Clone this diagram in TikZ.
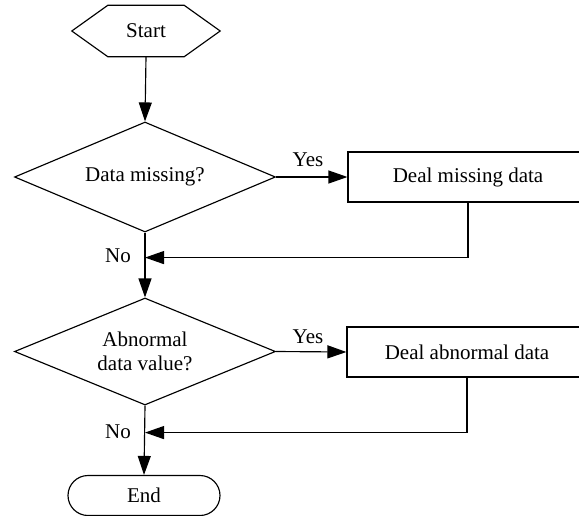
\documentclass[tikz,border=0pt]{standalone}
\usepackage{fontspec}
\setmainfont{Liberation Serif}
\usetikzlibrary{shapes.geometric,arrows.meta}
\begin{document}
\begin{tikzpicture}[x=1pt,y=-1pt,
  every node/.style={font=\fontsize{21}{24}\selectfont},
  line/.style={line width=1.15pt},
  arr/.style={line,-{Triangle[length=19pt,width=13pt]}},
  dec/.style={diamond,draw,line,inner sep=0pt,aspect=2.4,minimum width=261pt,align=center},
  proc/.style={rectangle,draw,line,minimum width=240pt,minimum height=50pt},
  lab/.style={inner sep=0pt}]
\clip (0,0) rectangle (579,515);
% start
\node (start) at (146,31) [minimum width=148pt,minimum height=51pt,inner sep=0pt] {Start};
\draw[line] (start.west) -- ([xshift=36pt]start.north west) -- ([xshift=-36pt]start.north east)
  -- (start.east) -- ([xshift=-36pt]start.south east) -- ([xshift=36pt]start.south west) -- cycle;
% decisions
\node[dec,minimum height=110pt] (d1) at (145,177) {Data missing?};
\node[dec,minimum height=107pt] (d2) at (145,351.5) {Abnormal\\data value?};
% processes
\node[proc] (p1) at (468,177) {Deal missing data};
\node[proc] (p2) at (467,352) {Deal abnormal data};
% end
\node[draw,line,rectangle,rounded corners=20pt,minimum width=152pt,minimum height=40pt] (end) at (144,495.5) {End};
% connectors
\draw[arr] (start.south) -- (d1.north);
\draw[arr] (d1.east) -- (p1.west);
\node[lab] (y1) at (308,160) {Yes};
\draw[arr] (p1.south) |- ([yshift=-25pt]d1.south);
\node[lab] (n1) at (118,256) {No};
\draw[arr] (d1.south) -- (d2.north);
\draw[arr] (d2.east) -- (p2.west);
\node[lab] (y2) at (308,337) {Yes};
\draw[arr] (p2.south) |- ([yshift=-27pt]d2.south);
\node[lab] (n2) at (118,432) {No};
\draw[arr] (d2.south) -- (end.north);
\end{tikzpicture}
\end{document}
